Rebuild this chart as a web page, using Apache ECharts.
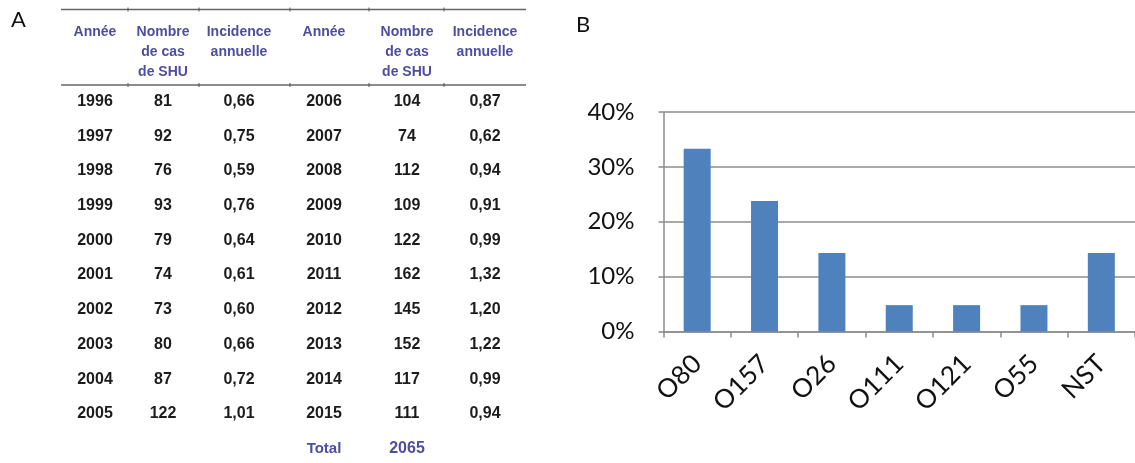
<!DOCTYPE html>
<html>
<head>
<meta charset="utf-8">
<script src="https://cdn.jsdelivr.net/npm/echarts@6/dist/echarts.min.js"></script>
<style>
html,body{margin:0;padding:0;background:#fff;}
#chart{width:1135px;height:463px;}
</style>
</head>
<body>
<div id="chart"></div>
<script>
// ---- Panel A: table data ----
const headerAnnee = 'Année';
const headerCas = 'Nombre\nde cas\nde SHU';
const headerInc = 'Incidence\nannuelle';
const yearsLeft = ['1996','1997','1998','1999','2000','2001','2002','2003','2004','2005'];
const casesLeft = [81, 92, 76, 93, 79, 74, 73, 80, 87, 122];
const incLeft = ['0,66','0,75','0,59','0,76','0,64','0,61','0,60','0,66','0,72','1,01'];
const yearsRight = ['2006','2007','2008','2009','2010','2011','2012','2013','2014','2015'];
const casesRight = [104, 74, 112, 109, 122, 162, 145, 152, 117, 111];
const incRight = ['0,87','0,62','0,94','0,91','0,99','1,32','1,20','1,22','0,99','0,94'];
const totalLabel = 'Total';
const totalValue = 2065;

// ---- Panel B: bar chart data ----
const serotypes = ['O80','O157','O26','O111','O121','O55','NST'];
const shares = [33.3, 23.8, 14.3, 4.8, 4.8, 4.8, 14.3];
const yTicks = [0, 10, 20, 30, 40];

const chart = echarts.init(document.getElementById('chart'), null, {renderer:'canvas'});

const headColor = '#4E4EA0';
const dataColor = '#1c1c1c';
const tFont = "'Liberation Sans', Arial, sans-serif";
const colX = [95, 163, 239, 324, 407, 485];
const rowY0 = 101.5, rowStep = 34.7;

const g = [];
function txt(x, y, s, color, size, va) {
  g.push({type:'text', x:x, y:y, silent:true, style:{text:String(s), fill:color,
    font:'bold ' + size + 'px ' + tFont, align:'center', verticalAlign:va || 'middle', lineHeight:20}});
}
// panel letters
g.push({type:'text', x:11, y:20, style:{text:'A', fill:'#111', font:"22px Lato, 'Open Sans', sans-serif", align:'left', verticalAlign:'middle'}});
g.push({type:'text', x:576, y:25, style:{text:'B', fill:'#111', font:"22px Lato, 'Open Sans', sans-serif", align:'left', verticalAlign:'middle'}});
// rules
[9.5, 85].forEach(function(y){
  g.push({type:'line', shape:{x1:61, y1:y, x2:526, y2:y}, style:{stroke:'#666', lineWidth:1.6}});
  [128, 199, 290, 369, 444].forEach(function(x){
    g.push({type:'line', shape:{x1:x, y1:y-2, x2:x, y2:y+2}, style:{stroke:'#555', lineWidth:1}});
  });
});
// headers
[0, 3].forEach(function(o){
  txt(colX[o], 22, headerAnnee, headColor, 14, 'top');
  txt(colX[o+1], 22, headerCas, headColor, 14, 'top');
  txt(colX[o+2], 22, headerInc, headColor, 14, 'top');
});
// rows
for (let i = 0; i < yearsLeft.length; i++) {
  const y = rowY0 + i * rowStep;
  txt(colX[0], y, yearsLeft[i], dataColor, 16);
  txt(colX[1], y, casesLeft[i], dataColor, 16);
  txt(colX[2], y, incLeft[i], dataColor, 16);
  txt(colX[3], y, yearsRight[i], dataColor, 16);
  txt(colX[4], y, casesRight[i], dataColor, 16);
  txt(colX[5], y, incRight[i], dataColor, 16);
}
const yTot = rowY0 + yearsLeft.length * rowStep;
txt(colX[3], yTot, totalLabel, headColor, 15);
txt(colX[4], yTot, totalValue, headColor, 16);

const axisFont = "Lato, 'Open Sans', sans-serif";
chart.setOption({
  animation:false,
  backgroundColor:'#fff',
  graphic:g,
  grid:{left:663.5, top:112, width:478, height:219.5, containLabel:false},
  xAxis:{type:'category', data:serotypes,
    axisLine:{lineStyle:{color:'#8c8c8c', width:1.5}},
    axisTick:{show:true, length:6, lineStyle:{color:'#8c8c8c', width:1.5}},
    axisLabel:{rotate:45, margin:28, color:'#111', fontSize:26, fontFamily:axisFont}},
  yAxis:{type:'value', min:yTicks[0], max:yTicks[yTicks.length-1], interval:10,
    axisLine:{show:true, lineStyle:{color:'#8c8c8c', width:1.5}},
    axisTick:{show:true, length:5, lineStyle:{color:'#8c8c8c', width:1.5}},
    splitLine:{lineStyle:{color:'#8c8c8c', width:1.5}},
    axisLabel:{formatter:'{value}%', margin:29, color:'#111', fontSize:24, fontFamily:axisFont}},
  series:[{type:'bar', data:shares, barWidth:27, itemStyle:{color:'#4F81BD'}}]
});
</script>
</body>
</html>
